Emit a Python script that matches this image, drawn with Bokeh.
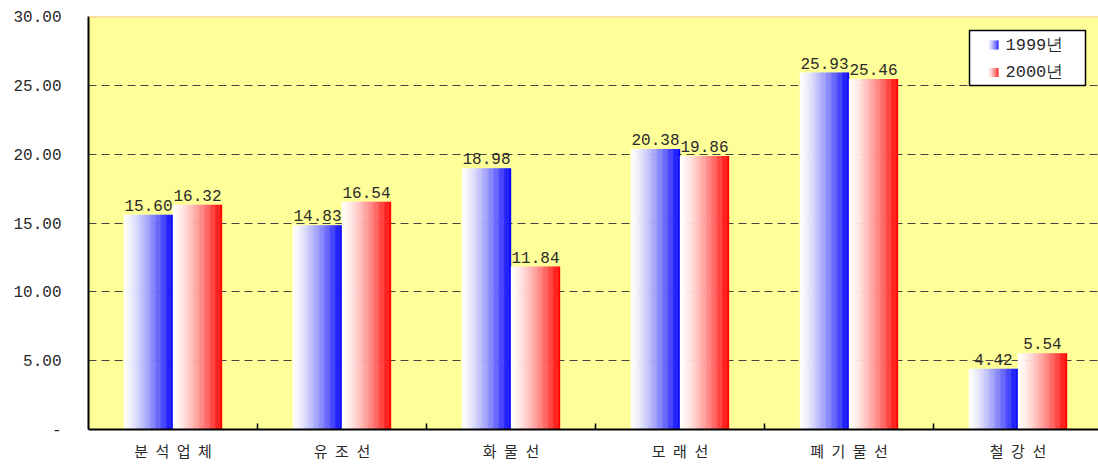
from bokeh.plotting import figure
from bokeh.models import ColumnDataSource, FixedTicker, CustomJSTickFormatter, Span, Range1d
from bokeh.core.properties import value
from bokeh.embed import file_html
from bokeh.resources import INLINE

# Data
categories = ["분석업체", "유조선", "화물선", "모래선", "폐기물선", "철강선"]
series_names = ["1999년", "2000년"]
v1999 = [15.60, 14.83, 18.98, 20.38, 25.93, 4.42]
v2000 = [16.32, 16.54, 11.84, 19.86, 25.46, 5.54]
y_ticks = [0, 5, 10, 15, 20, 25, 30]

BAR_W = 0.29          # width of one bar in category units
N_STRIPS = 40         # strips used to paint the horizontal gradient
BLUE = (0, 0, 255)
RED = (255, 0, 0)
NUM_FONT = value("Liberation Mono")
KOR_FONT = "Noto Sans CJK KR"
TEXT_COLOR = "#2a2a2a"


def shade(end_rgb, t):
    """Blend from white (t=0) to end_rgb (t=1)."""
    k = t ** 1.4
    r, g, b = (round(255 + (c - 255) * k) for c in end_rgb)
    return f"#{r:02x}{g:02x}{b:02x}"


def gradient_strips(lefts, tops, width, bottoms, end_rgb):
    step = width / N_STRIPS
    xs, ws, ts, bs, cs = [], [], [], [], []
    for left, top, bot in zip(lefts, tops, bottoms):
        for k in range(N_STRIPS):
            xs.append(left + (k + 0.5) * step)
            ws.append(step * 1.3)
            ts.append(top)
            bs.append(bot)
            cs.append(shade(end_rgb, (k + 0.5) / N_STRIPS))
    return ColumnDataSource(dict(x=xs, w=ws, top=ts, bottom=bs, color=cs))


n = len(categories)
centers = [i + 0.5 for i in range(n)]

p = figure(width=1098, height=465, output_backend="svg", toolbar_location=None,
           x_range=Range1d(0, 1010 / 169), y_range=Range1d(0, 30),
           min_border_left=88, min_border_right=0, min_border_top=16, min_border_bottom=36)
p.background_fill_color = "#FFFF99"
p.border_fill_color = "white"
p.outline_line_color = None

# Gradient bars
for vals, rgb, off in ((v1999, BLUE, -BAR_W), (v2000, RED, 0.0)):
    lefts = [c + off for c in centers]
    src = gradient_strips(lefts, vals, BAR_W, [0] * n, rgb)
    p.vbar(x="x", width="w", top="top", bottom="bottom", source=src,
           fill_color="color", line_color=None)

# Value labels above bars
for vals, off in ((v1999, -BAR_W / 2), (v2000, BAR_W / 2)):
    lab = ColumnDataSource(dict(x=[c + off for c in centers], y=vals,
                                t=[f"{v:.2f}" for v in vals]))
    p.text(x="x", y="y", text="t", source=lab, text_align="center",
           text_baseline="bottom", y_offset=-4, text_font=NUM_FONT,
           text_font_size="16px", text_color=TEXT_COLOR)

# Legend
lx0, lx1 = (969 - 88) / 169, (1085 - 88) / 169
p.quad(left=[lx0], right=[lx1], top=[30 * (429 - 30) / 413], bottom=[30 * (429 - 85) / 413],
       fill_color="white", line_color="black", line_width=1.5)
sw_l, sw_w = (987 - 88) / 169, 11 / 169
for name, rgb, py in ((series_names[0], BLUE, 44.5), (series_names[1], RED, 72)):
    yc = 30 * (429 - py) / 413
    h = 4.5 * 30 / 413
    src = gradient_strips([sw_l], [yc + h], sw_w, [yc - h], rgb)
    p.vbar(x="x", width="w", top="top", bottom="bottom", source=src,
           fill_color="color", line_color=None)
    p.text(x=[(1005 - 88) / 169], y=[yc], text=[name], text_align="left",
           text_baseline="middle", text_font=NUM_FONT, text_font_size="17px",
           text_color=TEXT_COLOR)

# Top border line
p.add_layout(Span(location=30, dimension="width", line_color="#F4B084", line_width=1.5))

# Y axis
p.yaxis.ticker = FixedTicker(ticks=y_ticks)
p.yaxis.formatter = CustomJSTickFormatter(code='return tick == 0 ? "-" : tick.toFixed(2);')
p.yaxis.major_tick_out = 0
p.yaxis.major_tick_in = 0
p.yaxis.minor_tick_line_color = None
p.yaxis.major_label_standoff = 27
p.yaxis.major_label_text_font = "Liberation Mono"
p.yaxis.major_label_text_font_size = "16px"
p.yaxis.major_label_text_color = TEXT_COLOR
p.yaxis.axis_line_color = "black"
p.yaxis.axis_line_width = 2

# X axis: names at category centres, small inward ticks between categories
p.xaxis.ticker = FixedTicker(ticks=centers, minor_ticks=[float(i) for i in range(1, n)])
p.xaxis.major_label_overrides = {c: "\u2002".join(name) for c, name in zip(centers, categories)}
p.xaxis.major_tick_line_color = None
p.xaxis.major_tick_in = 0
p.xaxis.major_tick_out = 0
p.xaxis.minor_tick_in = 6
p.xaxis.minor_tick_out = 0
p.xaxis.minor_tick_line_color = "black"
p.xaxis.minor_tick_line_width = 1.5
p.xaxis.major_label_standoff = 10
p.xaxis.major_label_text_font = KOR_FONT
p.xaxis.major_label_text_font_size = "15px"
p.xaxis.major_label_text_color = TEXT_COLOR
p.xaxis.axis_line_color = "black"
p.xaxis.axis_line_width = 2

# Grid
p.xgrid.grid_line_color = None
p.ygrid.ticker = FixedTicker(ticks=y_ticks[1:-1])
p.ygrid.grid_line_color = "#444444"
p.ygrid.grid_line_dash = "8 5"
p.ygrid.grid_line_width = 1

open("out.html", "w").write(file_html(p, INLINE))
